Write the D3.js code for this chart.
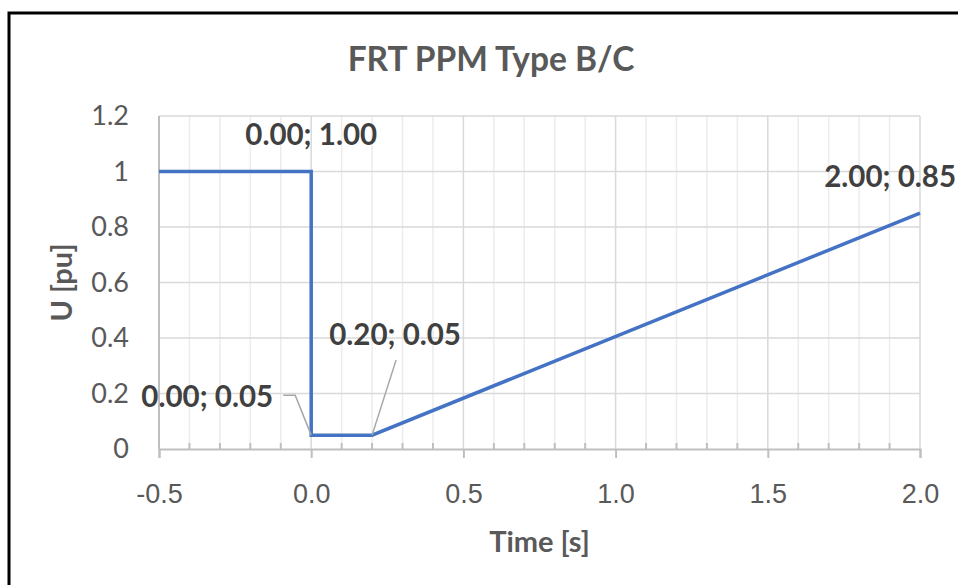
<!DOCTYPE html>
<html>
<head>
<meta charset="utf-8">
<script src="https://cdn.jsdelivr.net/npm/d3@7"></script>
<style>
  body { margin: 0; background: #fff; }
  svg { display: block; font-family: Lato, "Noto Sans", sans-serif; }
</style>
</head>
<body>
<script>
// FRT profile for PPM type B/C
const times = [-0.5, 0.0, 0.0, 0.2, 2.0];
const voltages = [1.0, 1.0, 0.05, 0.05, 0.85];
const labelled = [1, 2, 3, 4];
const xTicks = [-0.5, 0.0, 0.5, 1.0, 1.5, 2.0];
const yTicks = [0, 0.2, 0.4, 0.6, 0.8, 1.0, 1.2];

const W = 958, H = 585;
const margin = { left: 159, right: 38, top: 116, bottom: 136 };

const svg = d3.select('body').append('svg')
    .attr('width', W)
    .attr('height', H);

// chart border (right/bottom edges lie outside the picture)
svg.append('rect')
    .attr('x', 9).attr('y', 13)
    .attr('width', 1200).attr('height', 1200)
    .attr('fill', 'none')
    .attr('stroke', '#000')
    .attr('stroke-width', 3);

const x = d3.scaleLinear().domain([-0.5, 2.0]).range([margin.left, W - margin.right]);
const y = d3.scaleLinear().domain([0, 1.2]).range([H - margin.bottom, margin.top]);

const minorX = d3.range(-5, 21).map(d => d / 10);
const isMinor = d => Math.abs(d * 2 - Math.round(d * 2)) > 1e-6;

// gridlines
svg.append('g')
    .selectAll('line')
    .data(minorX.filter(isMinor))
    .join('line')
    .attr('x1', d => x(d)).attr('x2', d => x(d))
    .attr('y1', y(1.2)).attr('y2', y(0))
    .attr('stroke', '#ececec')
    .attr('stroke-width', 1.5);

svg.append('g')
    .selectAll('line')
    .data(xTicks.slice(1))
    .join('line')
    .attr('x1', d => x(d)).attr('x2', d => x(d))
    .attr('y1', y(1.2)).attr('y2', y(0))
    .attr('stroke', '#d9d9d9')
    .attr('stroke-width', 1.5);

svg.append('g')
    .selectAll('line')
    .data(yTicks.slice(1))
    .join('line')
    .attr('x1', x(-0.5)).attr('x2', x(2.0))
    .attr('y1', d => y(d)).attr('y2', d => y(d))
    .attr('stroke', '#d9d9d9')
    .attr('stroke-width', 1.5);

// axes
const axisColor = '#bfbfbf';
const textColor = '#595959';

svg.append('line')
    .attr('x1', x(-0.5)).attr('x2', x(-0.5))
    .attr('y1', y(1.2)).attr('y2', y(0))
    .attr('stroke', axisColor).attr('stroke-width', 2);

const xAxis = svg.append('g')
    .attr('transform', `translate(0,${y(0)})`)
    .call(d3.axisBottom(x).tickValues(xTicks).tickSize(9).tickPadding(26)
        .tickFormat(d3.format('.1f')));
xAxis.select('.domain').attr('stroke', axisColor).attr('stroke-width', 2);
xAxis.selectAll('.tick line').attr('stroke', axisColor).attr('stroke-width', 2);
xAxis.selectAll('.tick text')
    .attr('fill', textColor)
    .style('font-size', '27px')
    .text(d => d3.format('.1f')(d).replace('−', '-'));

// minor ticks pointing up into the plot
svg.append('g')
    .selectAll('line')
    .data(minorX.filter(isMinor))
    .join('line')
    .attr('x1', d => x(d)).attr('x2', d => x(d))
    .attr('y1', y(0)).attr('y2', y(0) - 6)
    .attr('stroke', axisColor)
    .attr('stroke-width', 2);

svg.append('g')
    .selectAll('text')
    .data(yTicks)
    .join('text')
    .attr('x', margin.left - 30)
    .attr('y', d => y(d))
    .attr('dy', '0.35em')
    .attr('text-anchor', 'end')
    .attr('fill', textColor)
    .style('font-size', '27px')
    .text(d => d3.format('~g')(d));

// titles
svg.append('text')
    .attr('x', 491).attr('y', 71)
    .attr('text-anchor', 'middle')
    .attr('fill', textColor)
    .style('font-size', '33.5px')
    .style('font-weight', 'bold')
    .text('FRT PPM Type B/C');

svg.append('text')
    .attr('x', (x(-0.5) + x(2.0)) / 2).attr('y', 552)
    .attr('text-anchor', 'middle')
    .attr('fill', textColor)
    .style('font-size', '29px')
    .style('font-weight', 'bold')
    .text('Time [s]');

svg.append('text')
    .attr('transform', `translate(72,${(y(0) + y(1.2)) / 2}) rotate(-90)`)
    .attr('text-anchor', 'middle')
    .attr('fill', textColor)
    .style('font-size', '29px')
    .style('font-weight', 'bold')
    .text('U [pu]');

// series
const line = d3.line().x(d => x(times[d])).y(d => y(voltages[d]));
svg.append('path')
    .datum(d3.range(times.length))
    .attr('d', line)
    .attr('fill', 'none')
    .attr('stroke', '#4472c4')
    .attr('stroke-width', 3.5)
    .attr('stroke-linejoin', 'miter');

// data labels: offset of label anchor from the point, and optional leader
const labelLayout = {
    1: { dx: 0, dy: -27, anchor: 'middle' },
    2: { dx: -38, dy: -28, anchor: 'end', leader: [[-16, -40], [-28, -40]] },
    3: { dx: 23, dy: -90, anchor: 'middle', leader: [[24, -75]] },
    4: { dx: 36, dy: -26, anchor: 'end' }
};

const fmt = d3.format('.2f');
labelled.forEach(i => {
    const px = x(times[i]), py = y(voltages[i]);
    const L = labelLayout[i];
    if (L.leader) {
        const pts = [[px, py]].concat(L.leader.map(p => [px + p[0], py + p[1]]));
        svg.append('path')
            .attr('d', d3.line()(pts))
            .attr('fill', 'none')
            .attr('stroke', '#a6a6a6')
            .attr('stroke-width', 1.5);
    }
    const t = svg.append('text')
        .attr('x', px + L.dx).attr('y', py + L.dy)
        .attr('text-anchor', L.anchor)
        .attr('fill', '#404040')
        .style('font-size', '29.5px')
        .style('font-weight', 'bold')
        .text(`${fmt(times[i])}; ${fmt(voltages[i])}`);
    // keep the label inside the picture
    const bb = t.node().getBBox();
    if (bb.x + bb.width > W - 1) t.attr('x', +t.attr('x') - (bb.x + bb.width - (W - 1)));
});
</script>
</body>
</html>
